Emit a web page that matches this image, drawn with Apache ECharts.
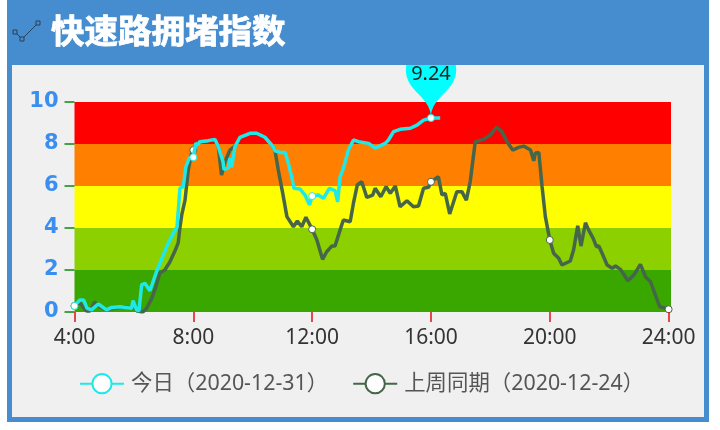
<!DOCTYPE html>
<html><head><meta charset="utf-8">
<style>html,body{margin:0;padding:0;background:#fff}#c{width:720px;height:430px}</style>
<script src="https://cdn.jsdelivr.net/npm/echarts@6/dist/echarts.min.js"></script>
</head><body><div id="c"></div>
<script>
const titleText = '快速路拥堵指数';
const seriesNames = ['今日（2020-12-31）', '上周同期（2020-12-24）'];
const tickHours = [4, 8, 12, 16, 20, 24];
const yEdges = [0, 2, 4, 6, 8, 10];
const bandColors = ['#3aa600', '#8cd000', '#ffff00', '#ff7f00', '#ff0000'];
const peakPoint = [16, 9.24];
const todayHours = [4,4.18,4.31,4.42,4.57,4.8,5.08,5.25,5.53,5.92,5.97,6.09,6.17,6.26,6.37,6.54,6.78,6.93,7.15,7.38,7.45,7.55,7.66,7.75,7.87,8,8.08,8.15,8.22,8.5,8.73,8.84,9,9.03,9.18,9.23,9.29,9.4,9.57,9.91,10.13,10.41,10.69,10.75,10.92,11.09,11.2,11.31,11.39,11.59,11.76,11.91,12,12.21,12.38,12.58,12.77,12.86,12.94,13.05,13.22,13.39,13.56,13.9,14.12,14.46,14.57,14.74,14.96,15.3,15.53,15.75,16,16.31];
const todayValues = [0.29,0.57,0.57,0.18,0.1,0.38,0.1,0.22,0.25,0.18,0.54,0.1,0.05,1.29,1.37,1.01,2,2.51,3.27,3.9,4.03,5.89,5.97,6.92,7.35,7.37,8.03,7.95,8.11,8.16,8.22,7.87,7.16,6.8,6.84,7.32,6.89,7.87,8.32,8.51,8.51,8.32,7.87,7.68,7.6,7.6,7.08,6.44,5.89,5.86,5.57,5.1,5.52,5.57,5.41,5.89,5.78,5.25,6.44,6.84,7.71,8.19,8.11,8.03,7.8,8.03,8.19,8.59,8.7,8.75,8.9,9.14,9.24,9.24];
const lastWeekHours = [4,4.18,4.31,4.41,4.52,4.68,4.85,5.09,5.36,5.7,5.9,6,6.1,6.3,6.43,6.6,6.74,6.87,7.04,7.21,7.38,7.49,7.55,7.61,7.72,7.83,7.94,8,8.08,8.22,8.5,8.73,8.84,8.95,9.07,9.23,9.4,9.57,9.91,10.13,10.41,10.69,10.75,10.86,11.01,11.15,11.37,11.5,11.65,11.79,12,12.16,12.35,12.49,12.66,12.77,12.94,13.05,13.28,13.39,13.52,13.67,13.84,14.04,14.12,14.31,14.49,14.63,14.8,14.96,15.19,15.41,15.58,15.75,15.92,16,16.25,16.37,16.48,16.63,16.87,17.04,17.19,17.32,17.49,17.77,18,18.2,18.39,18.56,18.75,18.95,19.12,19.35,19.46,19.51,19.63,19.74,19.85,20,20.13,20.3,20.41,20.69,20.8,20.94,21.05,21.2,21.31,21.46,21.57,21.65,21.76,21.93,22.1,22.21,22.38,22.63,22.83,23.05,23.22,23.39,23.7,24];
const lastWeekValues = [0.29,0.43,0.19,0.05,0.05,0.48,0.24,0.1,0.19,0.24,0.19,0.29,0.05,0,0.18,0.65,1.2,1.86,2,2.38,2.9,3.29,4.03,4.62,5.33,6.76,7.56,7.71,8.02,8.11,8.16,8.22,7.87,6.52,7.16,7.71,7.9,8.32,8.51,8.51,8.32,7.87,7.68,6.76,5.65,4.54,4.06,4.33,4.06,4.51,3.94,3.43,2.51,2.87,3.14,3.14,3.9,4.38,4.3,5.18,6.05,6.2,5.46,5.57,5.89,5.49,5.97,5.65,6,5.01,5.3,5.01,5.05,5.89,5.94,6.2,6.44,5.57,5.65,4.67,5.73,5.73,5.33,6.2,8.11,8.22,8.43,8.8,8.59,8.11,7.71,7.84,7.9,7.71,7.2,7.56,7.6,5.97,4.54,3.43,2.8,2.56,2.24,2.43,2.95,4.1,3.14,4.25,3.9,3.51,3.11,3.14,2.8,2.24,2.08,2.19,2.03,1.49,1.76,2.27,1.68,1.44,0.25,0.13];

const pairs = (xs, ys) => xs.map((x, i) => [x, ys[i]]);
const markerSize = v => tickHours.includes(v[0]) ? 7 : 0;
const cyan = '#1fe8e8', olive = '#46664a';
const chart = echarts.init(document.getElementById('c'), null, {renderer: 'canvas'});
const baseFont = '"Noto Sans", "Noto Sans CJK SC", sans-serif';
chart.setOption({
  animation: false,
  backgroundColor: '#fff',
  textStyle: {fontFamily: baseFont},
  graphic: [
    {type: 'rect', z: -2, shape: {x: 7, y: 0, width: 702, height: 422}, style: {fill: '#468dcf'}},
    {type: 'rect', z: -1, shape: {x: 12, y: 65, width: 692, height: 352}, style: {fill: '#f0f0f0'}},
    {type: 'rect', z: 100, shape: {x: 7, y: 0, width: 702, height: 65}, style: {fill: '#468dcf'}},
    {type: 'polyline', z: 101, shape: {points: [[15, 32], [22, 39], [38, 23]]}, style: {stroke: '#2b3f55', lineWidth: 1, fill: null}},
    {type: 'rect', z: 101, shape: {x: 13, y: 30, width: 4, height: 4}, style: {fill: '#468dcf', stroke: '#2b3f55', lineWidth: 1}},
    {type: 'rect', z: 101, shape: {x: 20, y: 37, width: 4, height: 4}, style: {fill: '#468dcf', stroke: '#2b3f55', lineWidth: 1}},
    {type: 'rect', z: 101, shape: {x: 36, y: 21, width: 4, height: 4}, style: {fill: '#468dcf', stroke: '#2b3f55', lineWidth: 1}}
  ],
  title: {
    text: titleText, left: 46, top: 9, z: 200,
    textStyle: {color: '#fff', fontSize: 33.5, fontWeight: 'bold', fontFamily: '"Noto Sans CJK SC", sans-serif', textBorderColor: '#fff', textBorderWidth: 0.8}
  },
  grid: {left: 74.5, right: 49, top: 102, bottom: 118, containLabel: false},
  legend: {
    data: seriesNames, left: 74, top: 368, itemWidth: 44, itemHeight: 24, itemGap: 24,
    textStyle: {color: '#555', fontSize: 21.4, fontFamily: baseFont, padding: [0, 0, 0, 2]}
  },
  xAxis: {
    type: 'value', min: 4, max: 24.08, interval: 4, z: 50,
    splitLine: {show: false},
    axisLine: {show: false},
    axisTick: {show: true, length: 10, lineStyle: {color: '#e0101a', width: 1.5}, customValues: tickHours},
    axisLabel: {color: '#333', fontSize: 21, margin: 16, formatter: v => v + ':00', customValues: tickHours}
  },
  yAxis: {
    type: 'value', min: 0, max: 10, interval: 2, z: 50,
    splitLine: {show: false},
    axisLine: {show: false},
    axisTick: {show: true, length: 10, lineStyle: {color: '#0a8a0a', width: 1.5}},
    axisLabel: {color: '#3a8ef0', fontSize: 21, fontWeight: 'bold', margin: 16, fontFamily: '"DejaVu Sans", sans-serif'}
  },
  series: [
    {
      name: 'bands', type: 'line', data: [], z: 1, silent: true,
      markArea: {silent: true, data: bandColors.map((c, i) => [{yAxis: yEdges[i], itemStyle: {color: c, opacity: 1}}, {yAxis: yEdges[i + 1]}])}
    },
    {
      name: seriesNames[1], type: 'line', z: 3,
      data: pairs(lastWeekHours, lastWeekValues),
      symbol: 'circle', symbolSize: markerSize, showAllSymbol: true,
      itemStyle: {color: '#fff', borderColor: olive, borderWidth: 1},
      lineStyle: {color: olive, width: 3.5}
    },
    {
      name: seriesNames[0], type: 'line', z: 4,
      data: pairs(todayHours, todayValues),
      symbol: 'circle', symbolSize: markerSize, showAllSymbol: true,
      itemStyle: {color: '#fff', borderColor: cyan, borderWidth: 1},
      lineStyle: {color: cyan, width: 3.5},
      markPoint: {
        symbol: 'pin', symbolSize: 84, symbolOffset: [0, 0],
        itemStyle: {color: '#00ffff'},
        label: {color: '#222', fontSize: 20, show: true, formatter: p => p.value},
        data: [{coord: peakPoint, value: peakPoint[1]}]
      }
    }
  ]
});
</script></body></html>
